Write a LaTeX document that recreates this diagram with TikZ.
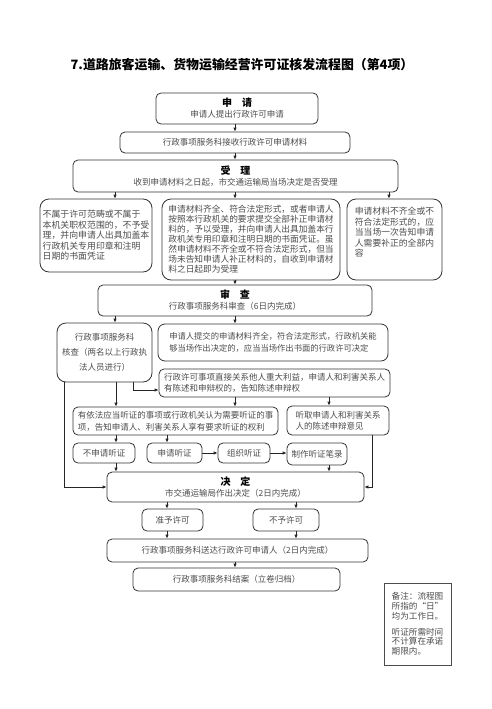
\documentclass[tikz,border=0pt]{standalone}
\usepackage{fontspec}
\setmainfont{Noto Sans CJK SC}
\usetikzlibrary{arrows.meta}
\tikzset{
  box/.style={draw=black!80, line width=0.8pt, rounded corners=5pt, inner sep=0pt,
    font=\fontsize{8.5}{11}\selectfont, text=black!70, align=center},
  bigbox/.style={box, rounded corners=9pt, align=left},
  notebox/.style={draw=black!70, line width=0.8pt, inner sep=0pt, align=left,
    font=\fontsize{8.6}{9.8}\selectfont, text=black!70},
  arr/.style={-{Latex[length=4pt,width=3.6pt]}, line width=0.8pt, draw=black!85},
  ln/.style={line width=0.8pt, draw=black!85},
}
\newcommand{\hd}[2]{{\bfseries\fontsize{10}{12}\selectfont\color{black}#1\hspace{1em}#2}}
\begin{document}
\begin{tikzpicture}[x=1pt,y=-1pt]
\useasboundingbox (0,0) rectangle (492,709);
\node[font=\bfseries\fontsize{12.9}{14}\selectfont] (title) at (242,65) {7.道路旅客运输、货物运输经营许可证核发流程图（第4项）};

\node[box, minimum width=162, minimum height=31] (req) at (237,108.5) {\hd{申}{请}\\申请人提出行政许可申请};
\node[box, minimum width=230, minimum height=21] (recv) at (235,142.5) {行政事项服务科接收行政许可申请材料};
\node[box, minimum width=325, minimum height=32] (acc) at (235.5,176) {\hd{受}{理}\\收到申请材料之日起，市交通运输局当场决定是否受理};

\node[bigbox, minimum width=112, minimum height=73, font=\fontsize{8.9}{10.5}\selectfont] (L) at (96,235.5) {不属于许可范畴或不属于\\本机关职权范围的，不予受\\理，并向申请人出具加盖本\\行政机关专用印章和注明\\日期的书面凭证};
\node[bigbox, minimum width=178, minimum height=81, font=\fontsize{8.7}{10}\selectfont] (M) at (251,239.5) {申请材料齐全、符合法定形式，或者申请人\\按照本行政机关的要求提交全部补正申请材\\料的，予以受理，并向申请人出具加盖本行\\政机关专用印章和注明日期的书面凭证。虽\\然申请材料不齐全或不符合法定形式，但当\\场未告知申请人补正材料的，自收到申请材\\料之日起即为受理};
\node[bigbox, minimum width=95, minimum height=81, font=\fontsize{8.8}{10.5}\selectfont] (R) at (394.5,239.5) {申请材料不齐全或不\\符合法定形式的，应\\当当场一次告知申请\\人需要补正的全部内\\容\\[4pt]};

\node[box, minimum width=274, minimum height=31] (rev) at (235,300.5) {\hd{审}{查}\\行政事项服务科审查（6日内完成）};
\node[box, rounded corners=9pt, minimum width=95, minimum height=59, font=\fontsize{8.5}{15}\selectfont] (chk) at (104.5,352.5) {行政事项服务科\\核查（两名以上行政执\\法人员进行）};
\node[box, rounded corners=7pt, align=left, minimum width=230, minimum height=37, font=\fontsize{8.3}{12}\selectfont] (dec1) at (273,342.5) {申请人提交的申请材料齐全，符合法定形式，行政机关能\\够当场作出决定的，应当当场作出书面的行政许可决定};
\node[box, align=left, minimum width=231, minimum height=28] (stmt) at (274.5,383) {行政许可事项直接关系他人重大利益，申请人和利害关系人\\有陈述和申辩权的，告知陈述申辩权};
\node[box, align=left, minimum width=205, minimum height=28, font=\fontsize{8.5}{12}\selectfont] (hear) at (175.5,421) {有依法应当听证的事项或行政机关认为需要听证的事\\项，告知申请人、利害关系人享有要求听证的权利};
\node[box, align=left, minimum width=102, minimum height=29] (listen) at (338,420.5) {听取申请人和利害关系\\人的陈述申辩意见};

\node[box, minimum width=62, minimum height=20] (noh) at (104,453) {不申请听证};
\node[box, minimum width=55, minimum height=20] (apph) at (174.5,453) {申请听证};
\node[box, minimum width=52, minimum height=20] (org) at (244,453) {组织听证};
\node[box, minimum width=60, minimum height=22] (rec) at (317,454) {制作听证笔录};

\node[box, minimum width=257, minimum height=30] (decide) at (235.5,487) {\hd{决}{定}\\市交通运输局作出决定（2日内完成）};
\node[box, minimum width=61, minimum height=22] (grant) at (172.5,520) {准予许可};
\node[box, minimum width=66, minimum height=22] (deny) at (286,520) {不予许可};
\node[box, minimum width=261, minimum height=23] (deliver) at (237.5,550.5) {行政事项服务科送达行政许可申请人（2日内完成）};
\node[box, minimum width=207, minimum height=23] (close) at (236.5,579.5) {行政事项服务科结案（立卷归档）};

\node[notebox, minimum width=67, minimum height=82] (note) at (417.5,624) {备注：流程图\\所指的“日”\\均为工作日。\\[6pt]听证所需时间\\不计算在承诺\\期限内。};

% connectors
\draw[arr] (req.south -| recv.north) -- (recv.north);
\draw[arr] (recv.south) -- (acc.north -| recv.south);
\draw[arr] ([xshift=19pt]L.north |- acc.south) -- ([xshift=19pt]L.north);
\draw[arr] ([xshift=-16pt]M.north |- acc.south) -- ([xshift=-16pt]M.north);
\draw[arr] ([xshift=-5.5pt]R.north |- acc.south) -- ([xshift=-5.5pt]R.north);
\draw[arr] ([xshift=-16pt]M.south) -- ([xshift=-16pt]M.south |- rev.north);
\draw[arr] ([xshift=10.5pt]chk.north |- rev.south) -- ([xshift=10.5pt]chk.north);
\draw[arr] ([xshift=-38pt]dec1.north |- rev.south) -- ([xshift=-38pt]dec1.north);
\draw[arr] ([xshift=28.5pt]chk.south) |- ([yshift=-7pt]stmt.west);
\draw[arr] ([xshift=11.5pt]chk.south) -- ([xshift=11.5pt]chk.south |- hear.north);
\draw[arr] ([xshift=-40pt]chk.south) |- (decide.west);
\draw[arr] ([xshift=-39.5pt]stmt.south) -- ([xshift=-39.5pt]stmt.south |- hear.north);
\draw[arr] ([xshift=54.5pt]stmt.south) -- ([xshift=54.5pt]stmt.south |- listen.north);
\draw[arr] ([xshift=12pt]noh.north |- hear.south) -- ([xshift=12pt]noh.north);
\draw[arr] ([xshift=-7.5pt]apph.north |- hear.south) -- ([xshift=-7.5pt]apph.north);
\draw[arr] (apph.east) -- (org.west);
\draw[arr] (org.east) -- (org.east -| rec.west);
\draw[arr] ([xshift=12pt]noh.south) -- ([xshift=12pt]noh.south |- decide.north);
\draw[arr] ([xshift=12pt]rec.south) -- ([xshift=12pt]rec.south |- decide.north);
\draw[arr] ([xshift=34pt]listen.south) |- (decide.east);
\draw[arr] ([xshift=-5.5pt]grant.north |- decide.south) -- ([xshift=-5.5pt]grant.north);
\draw[arr] ([xshift=10pt]deny.north |- decide.south) -- ([xshift=10pt]deny.north);
\draw[arr] ([xshift=-5.5pt]grant.south) -- ([xshift=-5.5pt]grant.south |- deliver.north);
\draw[arr] ([xshift=10pt]deny.south) -- ([xshift=10pt]deny.south |- deliver.north);
\draw[arr] ([xshift=-2.5pt]deliver.south) -- ([xshift=-2.5pt]deliver.south |- close.north);
\end{tikzpicture}
\end{document}
